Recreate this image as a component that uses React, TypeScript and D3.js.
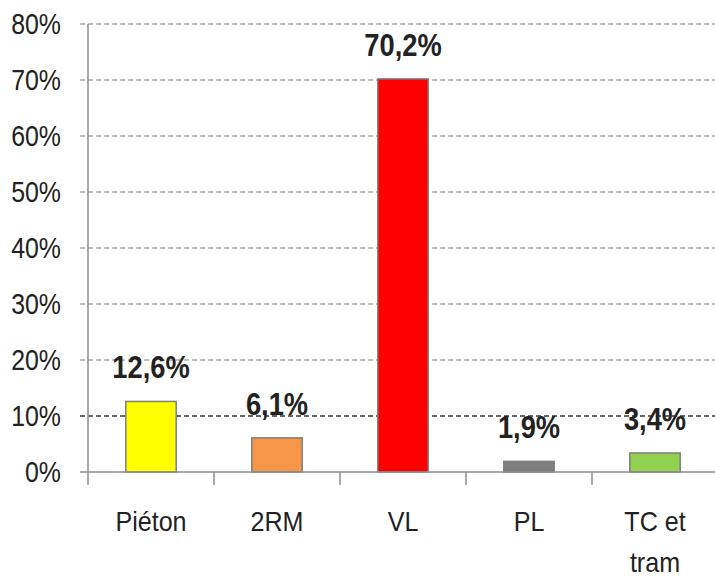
import React, { useRef, useEffect } from 'react';
import * as d3 from 'd3';

// data
const categories = ['Piéton', '2RM', 'VL', 'PL', 'TC et tram'];
const categoryLines = [['Piéton'], ['2RM'], ['VL'], ['PL'], ['TC et', 'tram']];
const values = [12.6, 6.1, 70.2, 1.9, 3.4];
const valueLabels = ['12,6%', '6,1%', '70,2%', '1,9%', '3,4%'];
const barColors = ['#ffff00', '#f79646', '#ff0000', '#7f7f7f', '#92d050'];
const yTicks = [0, 10, 20, 30, 40, 50, 60, 70, 80];

const App = () => {
  const svgRef = useRef<SVGSVGElement>(null);
  const svgWidth = 715;
  const svgHeight = 581;

  useEffect(() => {
    const svg = d3.select(svgRef.current);
    svg.selectAll('*').remove();

    const left = 88;
    const right = 718;
    const top = 24;
    const bottom = 472;
    const font = "'Liberation Sans', Arial, sans-serif";

    const x = d3.scaleBand().domain(categories).range([left, right]).paddingInner(0.6).paddingOuter(0.3);
    const band = (right - left) / categories.length;
    const y = d3.scaleLinear().domain([0, 80]).range([bottom, top]);

    // grid lines
    svg
      .append('g')
      .selectAll('line')
      .data(yTicks.filter((d) => d > 0))
      .join('line')
      .attr('x1', left - 8)
      .attr('x2', svgWidth)
      .attr('y1', (d) => y(d))
      .attr('y2', (d) => y(d))
      .attr('stroke', (d) => (d === 10 ? '#333' : '#a6a6a6'))
      .attr('stroke-width', 1.3)
      .attr('stroke-dasharray', '5,3');

    // y tick labels
    svg
      .append('g')
      .selectAll('text')
      .data(yTicks)
      .join('text')
      .attr('transform', (d) => `translate(61,${y(d) + 10}) scale(0.83,1)`)
      .attr('text-anchor', 'end')
      .attr('font-family', font)
      .attr('font-size', 30)
      .attr('fill', '#222')
      .text((d) => `${d}%`);

    // bars
    svg
      .append('g')
      .selectAll('rect')
      .data(values)
      .join('rect')
      .attr('x', (_, i) => x(categories[i]) as number)
      .attr('y', (d) => y(d))
      .attr('width', x.bandwidth())
      .attr('height', (d) => bottom - y(d))
      .attr('fill', (_, i) => barColors[i])
      .attr('stroke', '#7f7f7f')
      .attr('stroke-width', 1.5);

    // value labels
    svg
      .append('g')
      .selectAll('text')
      .data(values)
      .join('text')
      .attr('transform', (d, i) => `translate(${(x(categories[i]) as number) + x.bandwidth() / 2},${y(d) - 23}) scale(0.88,1)`)
      .attr('text-anchor', 'middle')
      .attr('font-family', font)
      .attr('font-weight', 'bold')
      .attr('font-size', 31)
      .attr('fill', '#222')
      .text((_, i) => valueLabels[i]);

    // axes lines
    svg
      .append('line')
      .attr('x1', left)
      .attr('x2', left)
      .attr('y1', top)
      .attr('y2', bottom)
      .attr('stroke', '#8c8c8c')
      .attr('stroke-width', 1.5);
    svg
      .append('line')
      .attr('x1', left - 8)
      .attr('x2', svgWidth)
      .attr('y1', bottom)
      .attr('y2', bottom)
      .attr('stroke', '#8c8c8c')
      .attr('stroke-width', 1.5);

    // x tick marks at category boundaries
    svg
      .append('g')
      .selectAll('line')
      .data(d3.range(categories.length + 1))
      .join('line')
      .attr('x1', (i) => left + i * band)
      .attr('x2', (i) => left + i * band)
      .attr('y1', bottom)
      .attr('y2', bottom + 13)
      .attr('stroke', '#8c8c8c')
      .attr('stroke-width', 1.5);

    // category labels
    const cat = svg
      .append('g')
      .selectAll('text')
      .data(categoryLines)
      .join('text')
      .attr('transform', (_, i) => `translate(${(x(categories[i]) as number) + x.bandwidth() / 2},531) scale(0.93,1)`)
      .attr('text-anchor', 'middle')
      .attr('font-family', font)
      .attr('font-size', 27)
      .attr('fill', '#222');
    cat
      .selectAll('tspan')
      .data((d) => d)
      .join('tspan')
      .attr('x', 0)
      .attr('dy', (_, j) => (j === 0 ? 0 : 41))
      .text((d) => d);
  }, []);

  return (
    <svg
      ref={svgRef}
      width={svgWidth}
      height={svgHeight}
      style={{ position: 'absolute', left: 0, top: 0, background: '#fff' }}
    ></svg>
  );
};

export default App;
